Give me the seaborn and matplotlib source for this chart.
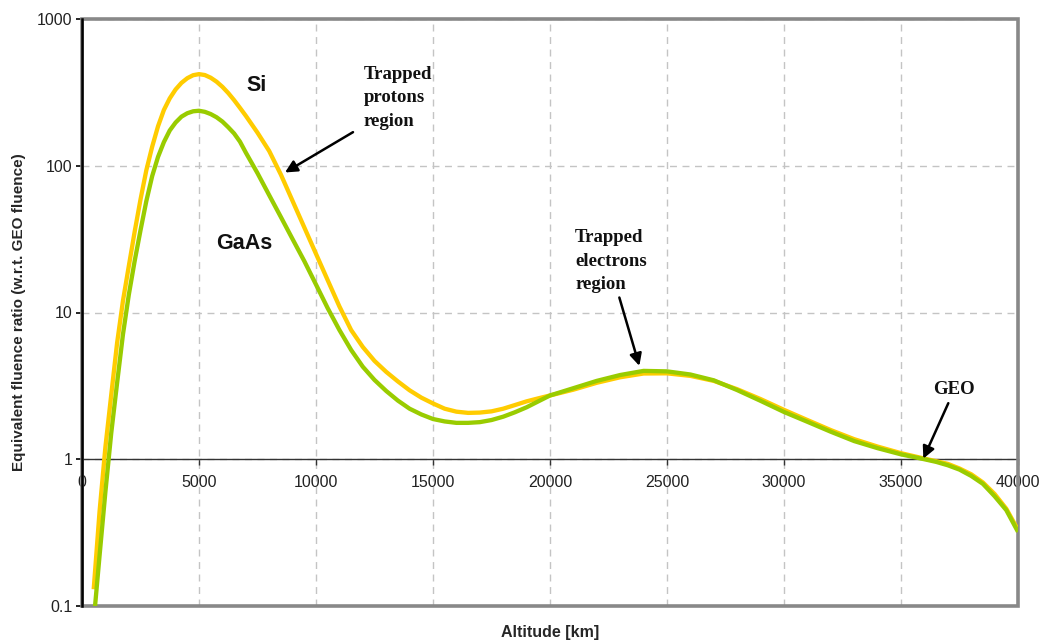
import numpy as np
import pandas as pd
import matplotlib
matplotlib.use("Agg")
import matplotlib.pyplot as plt
import seaborn as sns
from matplotlib.patches import Rectangle
from matplotlib.ticker import FixedLocator, FixedFormatter, NullLocator

# ---------------- data ----------------
altitude_km = [500, 750, 1000, 1250, 1500, 1750, 2000, 2250, 2500, 2750,
               3000, 3250, 3500, 3750, 4000, 4250, 4500, 4750, 5000, 5250,
               5500, 5750, 6000, 6250, 6500, 6750, 7000,
               7500, 8000, 8500, 9000, 9500, 10000, 10500, 11000, 11500,
               12000, 12500, 13000, 13500, 14000, 14500, 15000, 15500,
               16000, 16500, 17000, 17500, 18000, 18500, 19000, 19500, 20000,
               21000, 22000, 23000, 24000, 25000, 26000, 27000, 28000, 29000,
               30000, 31000, 32000, 33000, 34000, 35000, 36000,
               36500, 37000, 37500, 38000, 38500, 39000, 39500, 40000]

si_ratio = [0.13, 0.44, 1.21, 2.75, 6.2, 12.0, 20.7, 35.5, 58.9, 93.3,
            135, 186, 240, 288, 331, 367, 395, 414, 421, 415,
            398, 374, 345, 313, 280, 248, 219,
            168, 126, 87, 57.5, 38, 25.1, 16.6, 11.0, 7.6,
            5.82, 4.68, 3.94, 3.39, 2.95, 2.63, 2.40, 2.21,
            2.11, 2.07, 2.08, 2.12, 2.21, 2.34, 2.48, 2.60, 2.72,
            2.98, 3.32, 3.62, 3.84, 3.85, 3.70, 3.42, 3.00, 2.57,
            2.17, 1.85, 1.58, 1.37, 1.22, 1.10, 1.01,
            0.97, 0.93, 0.865, 0.79, 0.695, 0.58, 0.46, 0.33]

gaas_ratio = [0.079, 0.22, 0.60, 1.51, 3.31, 7.08, 13.2, 22.4, 36.3, 57.5,
              85.1, 115, 145, 174, 197, 216, 228, 235, 237, 233,
              225, 214, 200, 183, 166, 146, 123,
              89, 63, 44.7, 31.6, 22.4, 15.5, 10.7, 7.6, 5.56,
              4.27, 3.47, 2.92, 2.51, 2.21, 2.02, 1.88, 1.81,
              1.77, 1.77, 1.79, 1.85, 1.95, 2.09, 2.26, 2.48, 2.72,
              3.05, 3.42, 3.75, 4.00, 3.97, 3.78, 3.45, 2.96, 2.50,
              2.10, 1.80, 1.54, 1.33, 1.19, 1.08, 1.00,
              0.96, 0.91, 0.85, 0.77, 0.68, 0.56, 0.45, 0.32]

materials = ["Si", "GaAs"]
x_ticks = [0, 5000, 10000, 15000, 20000, 25000, 30000, 35000, 40000]
x_tick_labels = [str(v) for v in x_ticks]
y_ticks = [0.1, 1, 10, 100, 1000]
y_tick_labels = ["0.1", "1", "10", "100", "1000"]

# ---------------- styling ----------------
sns.set_theme(style="white")
plt.rcParams['font.family'] = ['Liberation Sans', 'DejaVu Sans']

n = len(altitude_km)
df = pd.DataFrame({
    "Altitude": altitude_km * 2,
    "Ratio": si_ratio + gaas_ratio,
    "Material": ["Si"] * n + ["GaAs"] * n,
})

W, H = 1047, 644
fig = plt.figure(figsize=(W / 100, H / 100), dpi=100)
ax = fig.add_axes([82 / W, 38 / H, 936 / W, 587 / H])

sns.lineplot(data=df, x="Altitude", y="Ratio", hue="Material",
             hue_order=materials,
             palette={"Si": "#FFCC00", "GaAs": "#99CC00"},
             linewidth=3.1, legend=False, sort=False, ax=ax)
for ln in ax.lines:
    ln.set_zorder(3)
    ln.set_solid_capstyle("butt")
    ln.set_solid_joinstyle("round")

ax.set_yscale("log")
ax.set_xlim(0, 40000)
ax.set_ylim(0.1, 1000)

ax.xaxis.set_major_locator(FixedLocator(x_ticks))
ax.xaxis.set_major_formatter(FixedFormatter(x_tick_labels))
ax.yaxis.set_major_locator(FixedLocator(y_ticks))
ax.yaxis.set_major_formatter(FixedFormatter(y_tick_labels))
ax.yaxis.set_minor_locator(NullLocator())
ax.xaxis.set_minor_locator(NullLocator())

ax.set_axisbelow(True)
ax.grid(True, which="major", axis="both", color="#c4c4c4",
        linestyle=(0, (5, 4)), linewidth=1.0)

# spines: left black, bottom axis crossing at 1, grey frame elsewhere
for s in ["top", "right"]:
    ax.spines[s].set_visible(False)
ax.spines["left"].set_color("black")
ax.spines["left"].set_linewidth(1.8)
ax.spines["left"].set_zorder(4)
ax.spines["bottom"].set_position(("data", 1))
ax.spines["bottom"].set_color("#333333")
ax.spines["bottom"].set_linewidth(1.0)
ax.add_patch(Rectangle((0, 0), 1, 1, transform=ax.transAxes, fill=False,
                       edgecolor="#888888", linewidth=2.6, clip_on=False,
                       zorder=2.6))

ax.tick_params(axis="y", which="major", direction="out", length=4,
               width=1.2, color="black", labelsize=11.5, pad=3,
               left=True, labelcolor="#222222")
ax.tick_params(axis="x", which="major", direction="out", length=4,
               width=1.0, color="#333333", labelsize=11.5, pad=7,
               bottom=True, labelcolor="#222222")

ax.set_xlabel("")
ax.set_ylabel("")
fig.text(550 / W, 1 - 633 / H, "Altitude [km]", ha="center", va="center",
         fontsize=11.5, fontweight="bold")
fig.text(19 / W, 1 - 312 / H, "Equivalent fluence ratio (w.r.t. GEO fluence)",
         ha="center", va="center", rotation=90, fontsize=11,
         fontweight="bold")

# ---------------- annotations ----------------
ax.text(7466, 351, "Si", ha="center", va="center", fontsize=15.5,
        fontweight="bold", color="#111111")
ax.text(6953, 29.7, "GaAs", ha="center", va="center", fontsize=15.5,
        fontweight="bold", color="#111111")

serif = ["Liberation Serif", "DejaVu Serif"]
ax.text(12050, 480, "Trapped\nprotons\nregion", ha="left", va="top",
        fontsize=13.5, fontweight="bold", family=serif, linespacing=1.5,
        color="#111111")
ax.text(21068, 37, "Trapped\nelectrons\nregion", ha="left", va="top",
        fontsize=13.5, fontweight="bold", family=serif, linespacing=1.5,
        color="#111111")
ax.text(37265, 2.98, "GEO", ha="center", va="center", fontsize=13.5,
        fontweight="bold", family=serif, color="#111111")

arrow_kw = dict(arrowstyle="-|>", color="black", lw=1.8, mutation_scale=18,
                shrinkA=0, shrinkB=0)
ax.annotate("", xy=(8675, 90), xytext=(11581, 169.4), arrowprops=arrow_kw,
            zorder=6)
ax.annotate("", xy=(23818, 4.33), xytext=(22963, 12.65), arrowprops=arrow_kw,
            zorder=6)
ax.annotate("", xy=(35954, 1.01), xytext=(37022, 2.41), arrowprops=arrow_kw,
            zorder=6)

fig.savefig("out.png", dpi=100, facecolor="white")
